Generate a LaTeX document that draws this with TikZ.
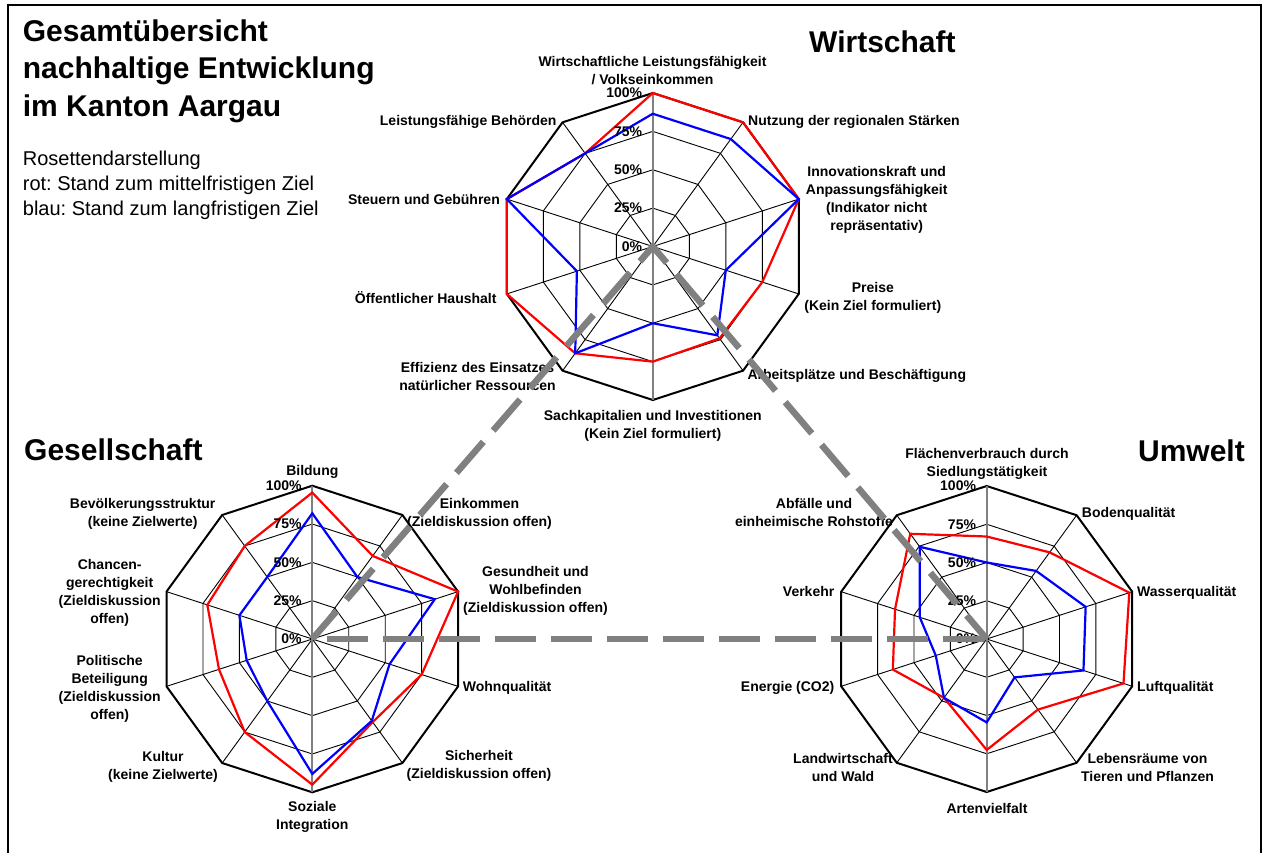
\documentclass[tikz,border=0pt]{standalone}
\usepackage{fontspec}
\setmainfont{Liberation Sans}
\frenchspacing
\definecolor{axisgray}{RGB}{128,128,128}
\newcommand\radargrid[1]{%
  \foreach \f in {0.25,0.5,0.75}{%
    \draw[ring] (-90:{\f*#1}) \foreach \k in {1,...,9}{ -- ({-90+36*\k}:{\f*#1}) } -- cycle;}%
  \foreach \k in {1,2,3,4,6,7,8,9}{\draw[ring] (0,0) -- ({-90+36*\k}:#1);}%
  \draw[outer] (-90:#1) \foreach \k in {1,...,9}{ -- ({-90+36*\k}:#1) } -- cycle;%
  \draw[vaxis] (-90:#1) -- (90:#1);}
\newcommand\radarpoly[4]{%
  \draw[#1] (-90:{#2*#4}) \foreach \v [count=\k] in {#3}{ -- ({-90+36*\k}:{\v*#4}) } -- cycle;}
\newcommand\radarpct[2]{%
  \foreach \p/\f in {100/1,75/0.75,50/0.5,25/0.25,0/0}{%
    \node[pct] (#2p\p) at (-10.5,{-\f*#1}) {\p\%};}}
\begin{document}
\begin{tikzpicture}[x=1pt,y=-1pt,
  lab/.style={font=\fontsize{14}{18}\selectfont\bfseries, inner sep=0pt, align=center},
  pct/.style={font=\fontsize{14}{17}\selectfont\bfseries, inner sep=0pt, anchor=east},
  bigtitle/.style={font=\fontsize{30}{37.5}\selectfont\bfseries, inner sep=0pt},
  subtitle/.style={font=\fontsize{20}{25}\selectfont, inner sep=0pt, anchor=base west},
  ring/.style={line width=0.9pt, black},
  outer/.style={line width=2pt, black, line join=miter},
  vaxis/.style={line width=1.8pt, axisgray},
  redline/.style={line width=2.2pt, red, line join=miter},
  blueline/.style={line width=2.2pt, blue, line join=miter},
  frame/.style={line width=2pt, black},
  tri/.style={line width=6.5pt, axisgray, dash pattern=on 41pt off 15pt, line join=miter}]
\useasboundingbox (0,0) rectangle (1266,852);
\fill[white] (0,0) rectangle (1266,852);
\draw[frame] (8,860) -- (8,5) -- (1261,5) -- (1261,860);

% centres
\coordinate (cW) at (652.8,246.5);
\coordinate (cG) at (312.3,639);
\coordinate (cU) at (986.7,639);

% ---------- Wirtschaft ----------
\begin{scope}[shift={(cW)}]
  \radargrid{153.5}
  \radarpoly{redline}{1}{1,1,0.75,0.74,0.75,0.86,1,1,0.75}{153.5}
  \radarpoly{blueline}{0.865}{0.865,1,0.5,0.715,0.5,0.86,0.52,1,0.75}{153.5}
  \radarpct{153.5}{w}
\end{scope}
% ---------- Gesellschaft ----------
\begin{scope}[shift={(cG)}]
  \radargrid{153.3}
  \radarpoly{redline}{0.955}{0.67,1,0.75,0.67,0.95,0.75,0.64,0.72,0.75}{153.3}
  \radarpoly{blueline}{0.82}{0.5,0.84,0.53,0.66,0.88,0.5,0.45,0.5,0.5}{153.3}
  \radarpct{153.3}{g}
\end{scope}
% ---------- Umwelt ----------
\begin{scope}[shift={(cU)}]
  \radargrid{153}
  \radarpoly{redline}{0.67}{0.70,0.98,0.94,0.57,0.725,0.475,0.645,0.63,0.85}{153}
  \radarpoly{blueline}{0.5}{0.55,0.68,0.665,0.31,0.545,0.475,0.35,0.46,0.745}{153}
  \radarpct{153}{u}
\end{scope}

% ---------- titles ----------
\node[bigtitle, anchor=base west] (t1) at (22.7,41.3) {Gesamtübersicht};
\node[bigtitle, anchor=base west] (t2) at (22.7,78.8) {nachhaltige Entwicklung};
\node[bigtitle, anchor=base west] (t3) at (22.7,116.3) {im Kanton Aargau};
\node[subtitle] (s1) at (22.7,165.7) {Rosettendarstellung};
\node[subtitle] (s2) at (22.7,190.5) {rot: Stand zum mittelfristigen Ziel};
\node[subtitle] (s3) at (22.7,215.3) {blau: Stand zum langfristigen Ziel};
\node[bigtitle, anchor=west] (tW) at (809,42) {Wirtschaft};
\node[bigtitle, anchor=west] (tG) at (24,450) {Gesellschaft};
\node[bigtitle, anchor=east] (tU) at (1245,451) {Umwelt};

% ---------- Wirtschaft labels ----------
\node[lab] (w0) at (652.5,71) {Wirtschaftliche Leistungsfähigkeit\\/ Volkseinkommen};
\node[lab, anchor=west] (w1) at (748,121.5) {Nutzung der regionalen Stärken};
\node[lab] (w2) at (876.7,199.5) {Innovationskraft und\\Anpassungsfähigkeit\\(Indikator nicht\\repräsentativ)};
\node[lab] (w3) at (872.8,297.5) {Preise\\(Kein Ziel formuliert)};
\node[lab, anchor=west] (w4) at (747.3,376) {Arbeitsplätze und Beschäftigung};
\node[lab] (w5) at (652.8,426) {Sachkapitalien und Investitionen\\(Kein Ziel formuliert)};
\node[lab] (w6) at (477.5,376.5) {Effizienz des Einsatzes\\natürlicher Ressourcen};
\node[lab, anchor=east] (w7) at (496.7,297.5) {Öffentlicher Haushalt};
\node[lab, anchor=east] (w8) at (500,199.3) {Steuern und Gebühren};
\node[lab, anchor=east] (w9) at (556.7,121.5) {Leistungsfähige Behörden};

% ---------- Gesellschaft labels ----------
\node[lab] (g0) at (312.3,471.5) {Bildung};
\node[lab] (g1) at (479.5,514) {Einkommen\\(Zieldiskussion offen)};
\node[lab] (g2) at (535.5,591) {Gesundheit und\\Wohlbefinden\\(Zieldiskussion offen)};
\node[lab, anchor=west] (g3) at (462.7,688) {Wohnqualität};
\node[lab] (g4) at (479,766) {Sicherheit\\(Zieldiskussion offen)};
\node[lab] (g5) at (312.3,816.5) {Soziale\\Integration};
\node[lab] (g6) at (163,766.5) {Kultur\\(keine Zielwerte)};
\node[lab] (g7) at (109.7,688.5) {Politische\\Beteiligung\\(Zieldiskussion\\offen)};
\node[lab] (g8) at (109.7,592.7) {Chancen-\\gerechtigkeit\\(Zieldiskussion\\offen)};
\node[lab] (g9) at (142.7,514) {Bevölkerungsstruktur\\(keine Zielwerte)};

% ---------- Umwelt labels ----------
\node[lab] (u0) at (987,463.5) {Flächenverbrauch durch\\Siedlungstätigkeit};
\node[lab, anchor=west] (u1) at (1081.7,514) {Bodenqualität};
\node[lab, anchor=west] (u2) at (1137,592.5) {Wasserqualität};
\node[lab, anchor=west] (u3) at (1137,688) {Luftqualität};
\node[lab] (u4) at (1147.5,767) {Lebensräume von\\Tieren und Pflanzen};
\node[lab] (u5) at (987,808) {Artenvielfalt};
\node[lab] (u6) at (843,767) {Landwirtschaft\\und Wald};
\node[lab, anchor=east] (u7) at (834.5,688) {Energie (CO2)};
\node[lab, anchor=east] (u8) at (834.5,591.5) {Verkehr};
\node[lab] (u9) at (814,512.5) {Abfälle und\\einheimische Rohstoffe};

% ---------- dashed triangle ----------
\draw[tri, dash phase=4pt] (cG) -- (cW) -- (cU);
\draw[tri, dash phase=41.6pt] (cG) -- (cU);
\end{tikzpicture}
\end{document}
